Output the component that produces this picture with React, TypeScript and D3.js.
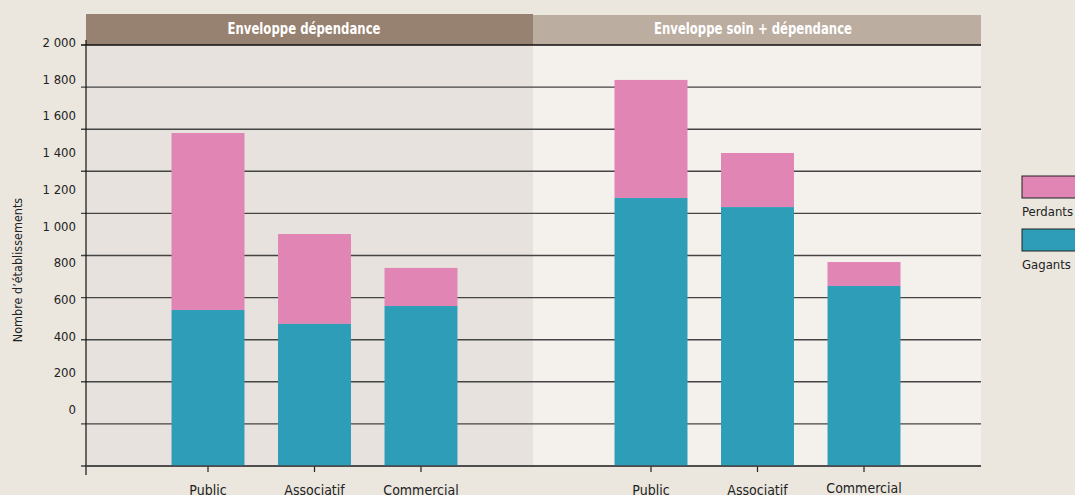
import React from 'react';
import * as d3 from 'd3';

const categories = ['Public', 'Associatif', 'Commercial'];
const panels = ['Enveloppe dépendance', 'Enveloppe soin + dépendance'];
// total height of each stacked bar, and the Gagants part
const gagantsDep = [741, 675, 760];
const totalDep = [1582, 1102, 941];
const gagantsSoin = [1273, 1230, 855];
const totalSoin = [1834, 1487, 969];
const yTicks = [0, 200, 400, 600, 800, 1000, 1200, 1400, 1600, 1800, 2000];
const yLabels = [0, 200, 400, 600, 800, 1000, 1200, 1400, 1600, 1800, 2000];
const legendItems = ['Perdants', 'Gagants'];

const PINK = '#e085b4';
const TEAL = '#2e9eb8';
const FONT = '"DejaVu Sans Condensed", "Liberation Sans Narrow", "Roboto", sans-serif';

const fmt = (v: number) => (v >= 1000 ? `${Math.floor(v / 1000)} ${String(v % 1000).padStart(3, '0')}` : String(v));

export default function App() {
  const width = 1075;
  const height = 495;
  const left = 86;
  const right = 981;
  const mid = 533;
  const top = 45;
  const bottom = 466;

  const y = d3.scaleLinear().domain([0, 2000]).range([bottom, top]);
  // the tick labels in the source sit on their own, tighter scale
  const yLab = d3.scaleLinear().domain([0, 2000]).range([414, 47]);

  const xLeft = d3.scaleBand<string>().domain(categories).range([154.75, 474.25]).paddingInner(0.315).paddingOuter(0.1575);
  const xRight = d3.scaleBand<string>().domain(categories).range([597.75, 917.25]).paddingInner(0.315).paddingOuter(0.1575);

  const series = [
    { x: xLeft, g: gagantsDep, t: totalDep, x0: left, x1: mid, head: '#978170', bg: '#e7e2dd', tl: 153, tx: 304 },
    { x: xRight, g: gagantsSoin, t: totalSoin, x0: mid, x1: right, head: '#bcada1', bg: '#f4f0ec', tl: 198, tx: 753 },
  ];

  return (
    <svg width={width} height={height} style={{ position: 'absolute', left: 0, top: 0, background: '#ebe7de' }} fontFamily={FONT}>
      {series.map((s, i) => (
        <g key={i}>
          <rect x={s.x0} y={top} width={s.x1 - s.x0} height={bottom - top} fill={s.bg} />
          <rect x={s.x0} y={i === 0 ? 14 : 15} width={s.x1 - s.x0} height={top - (i === 0 ? 14 : 15)} fill={s.head} />
          <text
            x={s.tx}
            y={34}
            textAnchor="middle"
            fill="#fff"
            fontWeight="bold"
            fontSize={15}
            textLength={s.tl}
            lengthAdjust="spacingAndGlyphs"
          >
            {panels[i]}
          </text>
        </g>
      ))}

      {yTicks.map((t) => (
        <line key={t} x1={81} x2={right} y1={y(t)} y2={y(t)} stroke={t === 2000 ? '#111' : '#444'} strokeWidth={1.4} />
      ))}
      {yLabels.map((t) => (
        <text key={t} x={76} y={yLab(t)} textAnchor="end" fontSize={13} fill="#222">
          {fmt(t)}
        </text>
      ))}
      <line x1={left} x2={left} y1={40} y2={475} stroke="#111" strokeWidth={1.2} />

      {series.map((s, i) => (
        <g key={'b' + i}>
          {categories.map((c, j) => (
            <g key={c}>
              <rect x={s.x(c)} y={y(s.t[j])} width={s.x.bandwidth()} height={y(s.g[j]) - y(s.t[j])} fill={PINK} />
              <rect x={s.x(c)} y={y(s.g[j])} width={s.x.bandwidth()} height={bottom - y(s.g[j])} fill={TEAL} />
              <line
                x1={(s.x(c) as number) + s.x.bandwidth() / 2}
                x2={(s.x(c) as number) + s.x.bandwidth() / 2}
                y1={bottom}
                y2={472}
                stroke="#222"
                strokeWidth={1.2}
              />
              <text
                x={(s.x(c) as number) + s.x.bandwidth() / 2}
                y={i === 1 && j === 2 ? 493 : 495}
                textAnchor="middle"
                fontSize={14}
                fill="#222"
              >
                {c}
              </text>
            </g>
          ))}
        </g>
      ))}
      <line x1={left} x2={right} y1={bottom} y2={bottom} stroke="#444" strokeWidth={1.4} />

      <text transform="translate(22,270) rotate(-90)" textAnchor="middle" fontSize={12.5} fill="#222">
        Nombre d’établissements
      </text>

      {legendItems.map((l, i) => (
        <g key={l} transform={`translate(1022,${176 + i * 53})`}>
          <rect x={0} y={0} width={60} height={22} fill={i === 0 ? PINK : TEAL} stroke="#222" strokeWidth={1} />
          <text x={0} y={40} fontSize={13} fill="#222">
            {l}
          </text>
        </g>
      ))}
    </svg>
  );
}
